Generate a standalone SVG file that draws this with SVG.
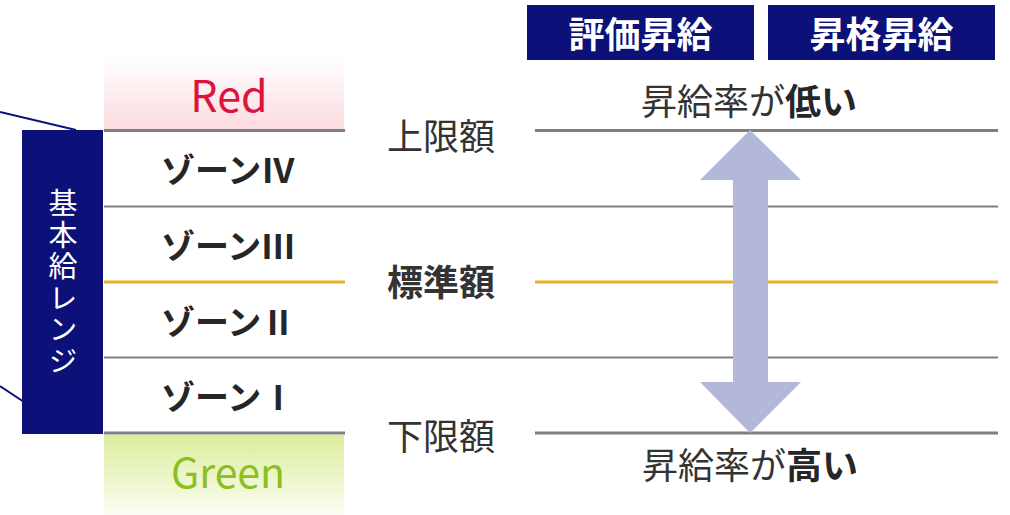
<svg xmlns="http://www.w3.org/2000/svg" width="1010" height="515" viewBox="0 0 1010 515">
<style>
text{font-family:"Noto Sans CJK JP","Noto Sans",sans-serif;dominant-baseline:central;text-anchor:middle}
.lbl{font-size:36px;fill:#333333}
.zone{font-size:34px;font-weight:bold;fill:#262626;text-anchor:start}
.hdr{font-size:36px;font-weight:bold;fill:#ffffff}
.vt{font-size:29px;fill:#ffffff}
.gl{stroke:#7f7f7f;fill:none}
.thick{stroke-width:3}
.thin{stroke-width:2}
.std{stroke:#e8b12a;stroke-width:3;fill:none}
</style>
<defs>
<linearGradient id="gRed" x1="0" y1="0" x2="0" y2="1">
<stop offset="0" stop-color="#ffffff"/>
<stop offset="1" stop-color="#fcdbe0"/>
</linearGradient>
<linearGradient id="gGreen" x1="0" y1="0" x2="0" y2="1">
<stop offset="0" stop-color="#dbee9c"/>
<stop offset="1" stop-color="#fbfdf3"/>
</linearGradient>
</defs>
<g id="connectors">
<line x1="0" y1="112" x2="76" y2="130" stroke="#0b1178" stroke-width="2"/>
<line x1="0" y1="386" x2="24" y2="402" stroke="#0b1178" stroke-width="2"/>
</g>
<g id="red-zone">
<rect x="104" y="58" width="240" height="71" fill="url(#gRed)"/>
<text x="229" y="93" font-size="43" fill="#dc143c">Red</text>
</g>
<g id="green-zone">
<rect x="104" y="435" width="240" height="80" fill="url(#gGreen)"/>
<text x="228" y="470" font-size="41" fill="#8cbf1f">Green</text>
</g>
<g id="grid">
<line class="gl thick" x1="104" y1="130.5" x2="345" y2="130.5"/>
<line class="gl thick" x1="535" y1="130.5" x2="998" y2="130.5"/>
<line class="gl thin" x1="104" y1="206.5" x2="998" y2="206.5"/>
<line class="std" x1="104" y1="282" x2="345" y2="282"/>
<line class="std" x1="535" y1="282" x2="998" y2="282"/>
<line class="gl thin" x1="104" y1="357.5" x2="998" y2="357.5"/>
<line class="gl thick" x1="104" y1="433" x2="345" y2="433"/>
<line class="gl thick" x1="535" y1="433" x2="998" y2="433"/>
</g>
<g id="range-box">
<rect x="22" y="130" width="81" height="304" fill="#0b1178"/>
<text class="vt" x="63" y="283" writing-mode="vertical-rl" letter-spacing="2.5">基本給レンジ</text>
</g>
<g id="zone4"><text class="zone" x="161" y="168">ゾーンⅣ</text></g>
<g id="zone3"><text class="zone" x="161" y="244">ゾーンⅢ</text></g>
<g id="zone2"><text class="zone" x="161" y="320">ゾーンⅡ</text></g>
<g id="zone1"><text class="zone" x="161" y="395">ゾーンⅠ</text></g>
<g id="upper-label"><text class="lbl" x="441" y="134">上限額</text></g>
<g id="standard-label"><text class="lbl" x="441" y="280" font-weight="bold" fill="#262626">標準額</text></g>
<g id="lower-label"><text class="lbl" x="441" y="434">下限額</text></g>
<g id="header-eval">
<rect x="527" y="5" width="227" height="55" fill="#0b1178"/>
<text class="hdr" x="640.5" y="32">評価昇給</text>
</g>
<g id="header-promo">
<rect x="768" y="5" width="227" height="55" fill="#0b1178"/>
<text class="hdr" x="881.5" y="32">昇格昇給</text>
</g>
<g id="rate-low"><text class="lbl" x="749" y="99">昇給率が<tspan font-weight="bold" fill="#262626">低い</tspan></text></g>
<g id="rate-high"><text class="lbl" x="750" y="463">昇給率が<tspan font-weight="bold" fill="#262626">高い</tspan></text></g>
<g id="arrow">
<polygon points="750,130 801,180 768,180 768,382 801,382 750,433 700,382 733,382 733,180 700,180" fill="#b3b7d9"/>
</g>
</svg>
